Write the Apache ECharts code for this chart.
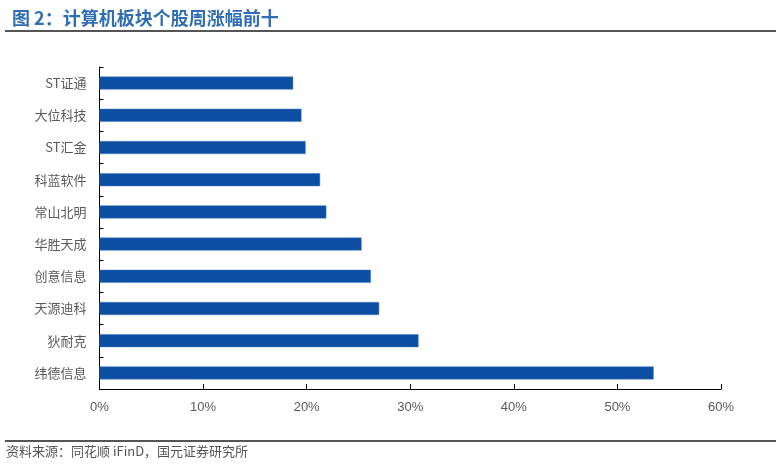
<!DOCTYPE html>
<html>
<head>
<meta charset="utf-8">
<script src="https://cdn.jsdelivr.net/npm/echarts@6/dist/echarts.min.js"></script>
<style>
  html, body { margin: 0; padding: 0; background: #fff; }
  #chart { width: 776px; height: 466px; }
</style>
</head>
<body>
<div id="chart"></div>
<script>
  // 个股名称（自下而上）
  const stocks = ['纬德信息', '狄耐克', '天源迪科', '创意信息', '华胜天成', '常山北明', '科蓝软件', 'ST汇金', '大位科技', 'ST证通'];
  // 周涨幅 %
  const weekGain = [53.5, 30.8, 27.0, 26.2, 25.3, 21.9, 21.3, 19.9, 19.5, 18.7];
  const xTicks = [0, 10, 20, 30, 40, 50, 60];

  const chart = echarts.init(document.getElementById('chart'));
  const font = '"Noto Sans CJK SC", "Noto Sans", sans-serif';
  const option = {
    animation: false,
    title: {
      text: '图 2：计算机板块个股周涨幅前十',
      left: 7,
      top: 4,
      textStyle: { color: '#2f6db5', fontSize: 18, fontWeight: 'bold', fontFamily: font }
    },
    graphic: [
      { type: 'line', shape: { x1: 5, y1: 31, x2: 776, y2: 31 }, style: { stroke: '#555', lineWidth: 2 } },
      { type: 'line', shape: { x1: 5, y1: 441, x2: 776, y2: 441 }, style: { stroke: '#555', lineWidth: 2 } },
      {
        type: 'text', left: 6, top: 445,
        style: { text: '资料来源：同花顺 iFinD，国元证券研究所', fill: '#555', fontSize: 13, fontFamily: font }
      }
    ],
    grid: { left: 99.5, right: 55, top: 67, bottom: 77 },
    xAxis: {
      type: 'value',
      min: xTicks[0],
      max: xTicks[xTicks.length - 1],
      interval: 10,
      splitLine: { show: false },
      axisLine: { show: true, lineStyle: { color: '#000', width: 1 } },
      axisTick: { show: true, inside: true, length: 5, lineStyle: { color: '#000' } },
      axisLabel: { color: '#595959', fontSize: 13, margin: 12, fontFamily: 'Liberation Sans, Arial, sans-serif', formatter: '{value}%' }
    },
    yAxis: {
      type: 'category',
      data: stocks,
      axisLine: { show: true, lineStyle: { color: '#000', width: 1 } },
      axisTick: { show: true, inside: true, length: 4, lineStyle: { color: '#000' } },
      axisLabel: { color: '#595959', fontSize: 13, margin: 13, fontFamily: font }
    },
    series: [{
      type: 'bar',
      data: weekGain,
      barWidth: 13,
      itemStyle: { color: '#0c4ea2', borderColor: '#4a7fc4', borderWidth: 0.5 }
    }]
  };
  chart.setOption(option);
  window.addEventListener('resize', function () {
    chart.resize();
  });
</script>
</body>
</html>
